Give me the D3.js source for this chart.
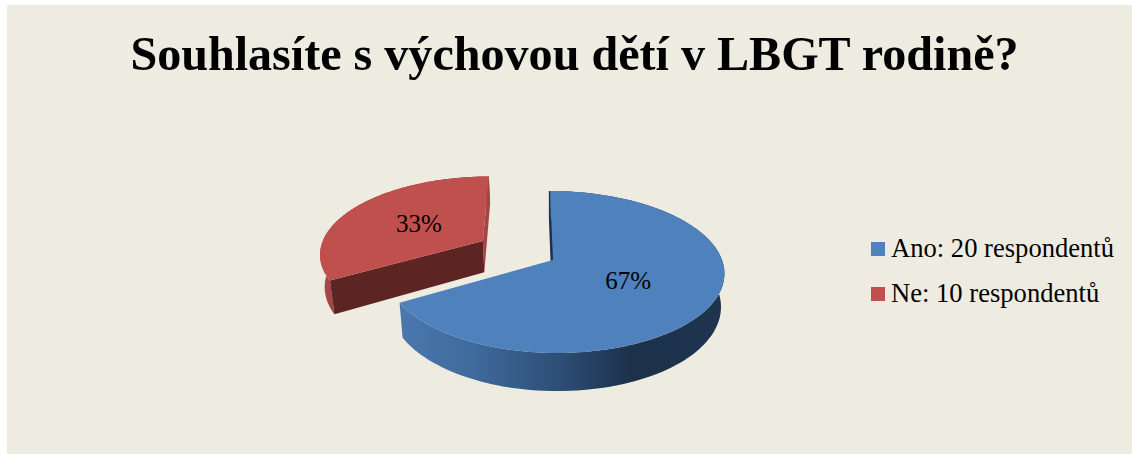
<!DOCTYPE html>
<html>
<head>
<meta charset="utf-8">
<script src="https://cdnjs.cloudflare.com/ajax/libs/d3/7.8.5/d3.min.js"></script>
<style>
  html, body { margin: 0; padding: 0; background: #fff; }
  text { font-family: "Liberation Serif", serif; fill: #000; }
</style>
</head>
<body>
<div id="chart"></div>
<script>
const titleText = 'Souhlasíte s výchovou dětí v LBGT rodině?';
const categories = ['Ano', 'Ne'];
const respondents = [20, 10];
const legendLabels = ['Ano: 20 respondentů', 'Ne: 10 respondentů'];
const topColors = ['#4f81bd', '#c0504d'];
const explode = [0, 0.5];

const width = 1132;
const height = 454;

// projection of the tilted pie plane, the left half is a bit narrower than the right
const persp = { cx: 553, cy: 260, k: 169, kLeft: 166, q: 79.2, p: 0.148, shear: -0.02, depth: 32.5, shrink: 0.98 };

function project(px, py, lower) {
  const w = 1 + persp.p * py;
  const sx = px + persp.shear * py;
  let x = (sx < 0 ? persp.kLeft : persp.k) * sx / w;
  let y = persp.cy - persp.q * py / w;
  if (lower) {
    x *= persp.shrink;
    y += persp.depth / w;
  }
  return [persp.cx + x, y];
}

const svg = d3.select('#chart').append('svg')
  .attr('width', width)
  .attr('height', height)
  .style('display', 'block');

svg.append('rect')
  .attr('x', 7).attr('y', 5)
  .attr('width', width - 7).attr('height', height - 5)
  .attr('fill', '#eeece1');

const defs = svg.append('defs');
function sideGradient(id, x1, x2, stops) {
  const g = defs.append('linearGradient')
    .attr('id', id)
    .attr('gradientUnits', 'userSpaceOnUse')
    .attr('x1', x1).attr('x2', x2)
    .attr('y1', 0).attr('y2', 0);
  stops.forEach(s => g.append('stop').attr('offset', s[0]).attr('stop-color', s[1]));
}
sideGradient('blueSide', 402, 724, [[0, '#4a78ae'], [0.22, '#3f6a9c'], [0.5, '#2c4d74'], [0.72, '#1c3049'], [1, '#1f354f']]);
sideGradient('redSide', 322, 345, [[0, '#b04a47'], [1, '#8d3b39']]);

const arcs = d3.pie().sort(null)(respondents);
const line = d3.line();

// each slice: offset centre, then sampled outer rim on both planes
const slices = arcs.map((a, i) => {
  const mid = (a.startAngle + a.endAngle) / 2;
  const ox = explode[i] * Math.sin(mid);
  const oy = explode[i] * Math.cos(mid);
  const rim = d3.range(0, 121).map(n => a.startAngle + (a.endAngle - a.startAngle) * n / 120);
  return {
    i, mid, ox, oy,
    rimTop: rim.map(t => project(ox + Math.sin(t), oy + Math.cos(t), false)),
    rimLow: rim.map(t => project(ox + Math.sin(t), oy + Math.cos(t), true)),
    centerTop: project(ox, oy, false),
    centerLow: project(ox, oy, true)
  };
});

const blue = slices[0];
const red = slices[1];
const wallFill = { red: '#5c2523', redEnd: '#a64644', blueEnd: '#1c3049' };

// red slice, it sits behind the blue one
svg.append('path')
  .attr('d', line(red.rimTop.concat(red.rimLow.slice().reverse())) + 'Z')
  .attr('fill', 'url(#redSide)');
svg.append('path')
  .attr('d', line([red.rimTop[120], red.centerTop, red.centerLow, red.rimLow[120]]) + 'Z')
  .attr('fill', wallFill.redEnd);
svg.append('path')
  .attr('d', line([red.rimTop[0], red.centerTop, red.centerLow, red.rimLow[0]]) + 'Z')
  .attr('fill', wallFill.red);
svg.append('path')
  .attr('d', line([red.centerTop].concat(red.rimTop)) + 'Z')
  .attr('fill', topColors[1]);

// blue slice
svg.append('path')
  .attr('d', line([blue.rimTop[0], blue.centerTop, blue.centerLow, blue.rimLow[0]]) + 'Z')
  .attr('fill', wallFill.blueEnd)
  .attr('stroke', wallFill.blueEnd)
  .attr('stroke-width', 2.5);
svg.append('path')
  .attr('d', line(blue.rimTop.concat(blue.rimLow.slice().reverse())) + 'Z')
  .attr('fill', 'url(#blueSide)');
svg.append('path')
  .attr('d', line([blue.centerTop].concat(blue.rimTop)) + 'Z')
  .attr('fill', topColors[0]);

// percent labels
const total = d3.sum(respondents);
slices.forEach(s => {
  const pos = project(s.ox + 0.49 * Math.sin(s.mid), s.oy + 0.49 * Math.cos(s.mid), false);
  svg.append('text')
    .attr('x', pos[0])
    .attr('y', pos[1] + 9)
    .attr('text-anchor', 'middle')
    .attr('font-size', 25)
    .text(d3.format('.0%')(respondents[s.i] / total));
});

svg.append('text')
  .attr('x', 574.5)
  .attr('y', 70)
  .attr('text-anchor', 'middle')
  .attr('font-size', 48.1)
  .attr('font-weight', 'bold')
  .text(titleText);

// legend
const legendY = d3.scalePoint().domain(categories).range([249, 294]);
const legend = svg.selectAll('g.legend').data(categories).enter().append('g')
  .attr('class', 'legend')
  .attr('transform', d => `translate(871,${legendY(d)})`);
legend.append('rect')
  .attr('y', -7)
  .attr('width', 14).attr('height', 14)
  .attr('fill', (d, i) => topColors[i]);
legend.append('text')
  .attr('x', 20)
  .attr('y', 8)
  .attr('font-size', 26.6)
  .text((d, i) => legendLabels[i]);
</script>
</body>
</html>
